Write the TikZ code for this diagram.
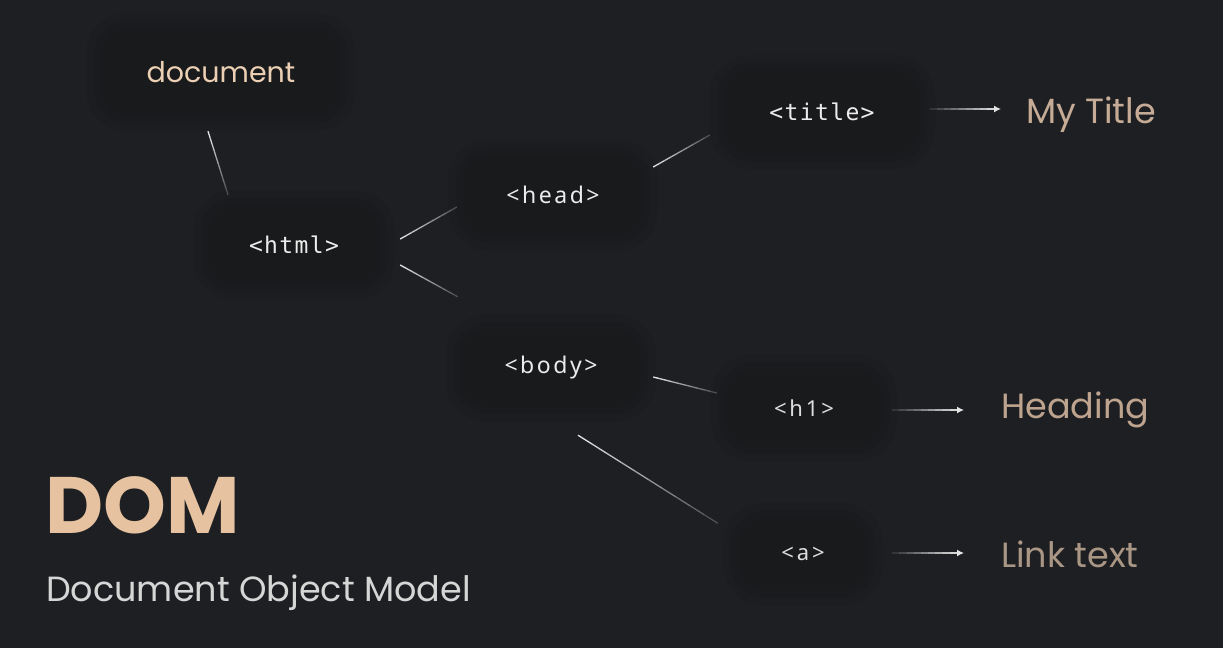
\documentclass[tikz,border=0pt]{standalone}
\usepackage{fontspec}
\setmainfont{Poppins}
\newfontfamily\monotag[LetterSpace=6]{DejaVu Sans Mono}
\newfontfamily\sanstag[LetterSpace=11]{Noto Sans}
\newfontfamily\smalltag[LetterSpace=13]{Noto Sans}
\usetikzlibrary{calc,arrows.meta}

\definecolor{bgcol}{RGB}{29,31,34}
\definecolor{boxcol}{RGB}{25,26,28}
\definecolor{doccol}{RGB}{236,208,180}
\definecolor{tagcol}{RGB}{236,236,236}
\definecolor{smalltagcol}{RGB}{222,222,222}
\definecolor{linecol}{RGB}{228,228,228}
\definecolor{titlecol}{RGB}{198,172,150}
\definecolor{headingcol}{RGB}{190,164,142}
\definecolor{linktextcol}{RGB}{170,150,132}
\definecolor{domcol}{RGB}{230,194,160}
\definecolor{subcol}{RGB}{214,214,214}

\tikzset{
  tagbox/.style={rounded corners=26pt, fill=boxcol, text=tagcol, inner sep=0,
    preaction={draw=black, draw opacity=0.05, line width=30pt},
    preaction={draw=black, draw opacity=0.06, line width=14pt}},
  link/.style={draw=linecol, line width=1.3pt},
  result/.style={anchor=base west, inner sep=0, font=\fontsize{35}{38}\selectfont}
}

% line that fades out towards the child
\newcommand\fadelink[2]{%
  \foreach \k [evaluate=\k as \op using 1-\k/12] in {0,...,9}
    \draw[link, draw opacity=\op] ($(#1)!\k/10!(#2)$) -- ($(#1)!\k/10+0.1!(#2)$);
}
% arrow that fades in towards its tip
\newcommand\fadearrow[2]{%
  \foreach \k [evaluate=\k as \op using 0.12+\k/10] in {0,...,8}
    \draw[link, draw opacity=\op] ($(#1)!\k/10!(#2)$) -- ($(#1)!\k/10+0.1!(#2)$);
  \draw[link, -{Latex[length=7pt,width=7pt]}] ($(#1)!0.9!(#2)$) -- (#2);
}

\begin{document}
\begin{tikzpicture}[x=1pt, y=-1pt]

% background
\fill[bgcol] (0,0) rectangle (1223,648);
\useasboundingbox (0,0) rectangle (1223,648);

% tree nodes
\node[tagbox, text=doccol, font=\fontsize{28.5}{30}\selectfont,
  minimum width=240pt, minimum height=88pt] (doc) at (221,72) {document};
\node[tagbox, font=\monotag\fontsize{23}{26}\selectfont,
  minimum width=172pt, minimum height=80pt] (html) at (294,245) {<html>};
\node[tagbox, font=\sanstag\fontsize{23}{26}\selectfont,
  minimum width=180pt, minimum height=82pt] (head) at (553,195) {<head>};
\node[tagbox, font=\sanstag\fontsize{23}{26}\selectfont,
  minimum width=180pt, minimum height=78pt] (body) at (551,368) {<body>};
\node[tagbox, font=\monotag\fontsize{23}{26}\selectfont,
  minimum width=196pt, minimum height=84pt] (title) at (822,112) {<title>};
\node[tagbox, text=smalltagcol, font=\smalltag\fontsize{22}{24}\selectfont,
  minimum width=156pt, minimum height=77pt] (hone) at (804,408) {<h1>};
\node[tagbox, text=smalltagcol, font=\smalltag\fontsize{22}{24}\selectfont,
  minimum width=130pt, minimum height=73pt] (atag) at (803,554) {<a>};

% rendered results
\node[result, text=titlecol] (mytitle) at (1026,123) {My Title};
\node[result, text=headingcol] (heading) at (1001,418) {Heading};
\node[result, text=linktextcol] (linktext) at (1001,567) {Link text};

% heading
\node[anchor=base west, inner sep=0, text=domcol,
  font=\bfseries\fontsize{80}{80}\selectfont] (dom) at (45,533) {DOM};
\node[anchor=base west, inner sep=0, text=subcol,
  font=\fontsize{35}{38}\selectfont] (dommodel) at (46,601) {Document Object Model};

% ends of the tree lines
\coordinate (l1a) at ($(doc.south)+(-13,15)$);
\coordinate (l1b) at ($(html.north)+(-66,-10)$);
\coordinate (l2a) at ($(html.east)+(20,-6)$);
\coordinate (l2b) at ($(head.west)+(-6,12)$);
\coordinate (l3a) at ($(html.east)+(20,20)$);
\coordinate (l3b) at ($(body.north west)+(-3,-32)$);
\coordinate (l4a) at ($(head.east)+(10,-28)$);
\coordinate (l4b) at ($(title.west)+(-14,23)$);
\coordinate (l5a) at ($(body.east)+(12,9)$);
\coordinate (l5b) at ($(hone.west)+(-9,-15)$);
\coordinate (l6a) at ($(body.south)+(27,28)$);
\coordinate (l6b) at ($(atag.north west)+(-20,6)$);

\fadelink{l1a}{l1b}
\fadelink{l2a}{l2b}
\fadelink{l3a}{l3b}
\fadelink{l4a}{l4b}
\fadelink{l5a}{l5b}
\fadelink{l6a}{l6b}

% arrows to the results
\coordinate (t1) at ($(title.east)+(10,-3)$);
\coordinate (t2) at ($(mytitle.base west)+(-25,-14)$);
\coordinate (h1) at ($(hone.east)+(10,2)$);
\coordinate (h2) at ($(heading.base west)+(-37,-8)$);
\coordinate (a1) at ($(atag.east)+(24,-1)$);
\coordinate (a2) at ($(linktext.base west)+(-37,-14)$);

\fadearrow{t1}{t2}
\fadearrow{h1}{h2}
\fadearrow{a1}{a2}

\end{tikzpicture}
\end{document}
